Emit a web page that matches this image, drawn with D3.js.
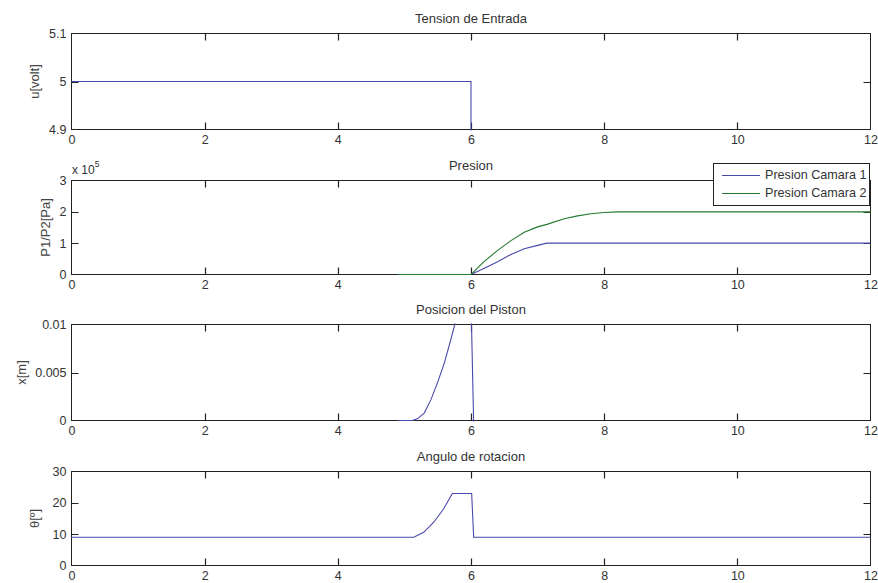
<!DOCTYPE html>
<html>
<head>
<meta charset="utf-8">
<script src="https://cdn.jsdelivr.net/npm/d3@7"></script>
<style>
  html, body { margin: 0; padding: 0; background: #fff; }
  svg { display: block; font-family: "Liberation Sans", Arial, sans-serif; }
  .tick text { fill: #333; font-size: 12.5px; font-family: "Liberation Sans", Arial, sans-serif; }
</style>
</head>
<body>
<svg id="chart" width="878" height="583"></svg>
<script>
// ---------- data ----------
const xTicks = [0, 2, 4, 6, 8, 10, 12];

// Panel 1: Tension de Entrada
const tU = [0, 6, 6, 12];
const uVals = [5, 5, 0, 0];
const uTicks = [4.9, 5, 5.1];

// Panel 2: Presion
const tP = [4.9, 6.0, 6.2, 6.4, 6.6, 6.8, 7.0, 7.14, 7.4, 7.6, 7.8, 8.0, 8.2, 12];
const p1 = [0, 0, 0.20e5, 0.41e5, 0.64e5, 0.82e5, 0.93e5, 1.0e5, 1.0e5, 1.0e5, 1.0e5, 1.0e5, 1.0e5, 1.0e5];
const p2 = [0, 0, 0.42e5, 0.77e5, 1.08e5, 1.35e5, 1.52e5, 1.60e5, 1.78e5, 1.87e5, 1.94e5, 1.98e5, 2.0e5, 2.0e5];
const pTicks = [0, 1e5, 2e5, 3e5];
const legendLabels = ["Presion Camara 1", "Presion Camara 2"];

// Panel 3: Posicion del Piston
const tX = [4.9, 5.12, 5.2, 5.3, 5.4, 5.5, 5.6, 5.7, 5.8, 5.9, 6.0, 6.04];
const xVals = [0, 0, 0.0002, 0.0008, 0.0022, 0.0040, 0.0060, 0.0085, 0.0112, 0.0125, 0.0125, -0.0003];
const xPosTicks = [0, 0.005, 0.01];

// Panel 4: Angulo de rotacion
const tA = [0, 5.14, 5.29, 5.44, 5.59, 5.72, 6.01, 6.04, 12];
const aVals = [9, 9, 10.6, 13.8, 18.1, 23, 23, 9, 9];
const aTicks = [0, 10, 20, 30];

const titles = ["Tension de Entrada", "Presion", "Posicion del Piston", "Angulo de rotacion"];
const yLabels = ["u[volt]", "P1/P2[Pa]", "x[m]", "\u03b8[\u00ba]"];

// ---------- layout ----------
const BLUE = "#4848aa", GREEN = "#237a2e", AXIS = "#222";
const left = 71.5, right = 870.5, TL = 7;
const panels = [
  {top: 33.5, bottom: 129.5, domain: [4.9, 5.1], ticks: uTicks, fmt: d => String(+d.toFixed(2)), ylx: 34,
   series: [{t: tU, v: uVals, c: BLUE}]},
  {top: 180.5, bottom: 274.5, domain: [0, 3e5], ticks: pTicks, fmt: d => String(d / 1e5), ylx: 45,
   series: [{t: tP, v: p1, c: BLUE}, {t: tP, v: p2, c: GREEN}]},
  {top: 324.5, bottom: 420.5, domain: [0, 0.01], ticks: xPosTicks, fmt: d => String(+d.toFixed(3)), ylx: 21,
   series: [{t: tX, v: xVals, c: BLUE}]},
  {top: 471.5, bottom: 565.5, domain: [0, 30], ticks: aTicks, fmt: d => String(d), ylx: 34,
   series: [{t: tA, v: aVals, c: BLUE}]}
];

const svg = d3.select("#chart");
const x = d3.scaleLinear().domain([0, 12]).range([left, right]);

panels.forEach((p, i) => {
  const y = d3.scaleLinear().domain(p.domain).range([p.bottom, p.top]);
  const g = svg.append("g");

  const cid = "clip" + i;
  svg.append("clipPath").attr("id", cid).append("rect")
    .attr("x", left - 1).attr("y", p.top - 1).attr("width", right - left + 2).attr("height", p.bottom - p.top + 2);

  // axis labels (d3 axes, tick lines drawn separately)
  const ax = (gen, tr) => {
    const a = g.append("g").attr("transform", tr).call(gen);
    a.select(".domain").remove();
    a.selectAll(".tick line").remove();
    a.attr("font-family", null);
    return a;
  };
  ax(d3.axisBottom(x).tickValues(xTicks).tickFormat(d3.format("d")).tickSize(0).tickPadding(6),
     `translate(0,${p.bottom})`);
  ax(d3.axisLeft(y).tickValues(p.ticks).tickFormat(p.fmt).tickSize(0).tickPadding(5),
     `translate(${left},0)`);

  // box
  g.append("rect").attr("x", left).attr("y", p.top)
    .attr("width", right - left).attr("height", p.bottom - p.top)
    .attr("fill", "none").attr("stroke", AXIS).attr("stroke-width", 1);

  // inward tick marks on all four sides, as one path
  const tp = d3.path();
  xTicks.slice(1, -1).forEach(d => {
    const xx = Math.round(x(d)) + 0.5;
    tp.moveTo(xx, p.bottom); tp.lineTo(xx, p.bottom - TL);
    tp.moveTo(xx, p.top); tp.lineTo(xx, p.top + TL);
  });
  p.ticks.slice(1, -1).forEach(d => {
    const yy = Math.round(y(d)) + 0.5;
    tp.moveTo(left, yy); tp.lineTo(left + TL, yy);
    tp.moveTo(right, yy); tp.lineTo(right - TL, yy);
  });
  g.append("path").attr("d", tp.toString())
    .attr("fill", "none").attr("stroke", AXIS).attr("stroke-width", 1.2);

  // series (on top)
  p.series.forEach(s => {
    const pts = s.t.map((t, k) => [t, s.v[k]]);
    g.append("path")
      .attr("clip-path", `url(#${cid})`)
      .attr("d", d3.line().x(d => x(d[0])).y(d => y(d[1]))(pts))
      .attr("fill", "none").attr("stroke", s.c).attr("stroke-width", 1.1);
  });

  // title
  g.append("text").attr("x", (left + right) / 2).attr("y", p.top - 11)
    .attr("text-anchor", "middle").attr("font-size", 13).attr("fill", "#333").text(titles[i]);

  // y label
  g.append("text")
    .attr("transform", `translate(${p.ylx},${(p.top + p.bottom) / 2}) rotate(-90)`)
    .attr("text-anchor", "middle").attr("dy", "0.35em")
    .attr("font-size", 13).attr("fill", "#444").text(yLabels[i]);

  if (i === 1) {
    const e = g.append("text").attr("x", left + 0.5).attr("y", p.top - 6.5).attr("font-size", 12).attr("fill", "#333");
    e.append("tspan").text("x 10");
    e.append("tspan").attr("dy", -7).attr("font-size", 8.5).text("5");

    const lg = svg.append("g");
    lg.append("rect").attr("x", 713.5).attr("y", 163.5).attr("width", 156).attr("height", 42)
      .attr("fill", "#fff").attr("stroke", AXIS);
    [BLUE, GREEN].forEach((c, k) => {
      const yy = 175 + k * 18;
      lg.append("line").attr("x1", 722).attr("x2", 760).attr("y1", yy + 0.5).attr("y2", yy + 0.5)
        .attr("stroke", c).attr("stroke-width", 1.1);
      lg.append("text").attr("x", 765).attr("y", yy).attr("dy", "0.35em")
        .attr("font-size", 12.6).attr("fill", "#333").text(legendLabels[k]);
    });
  }
});
</script>
</body>
</html>
